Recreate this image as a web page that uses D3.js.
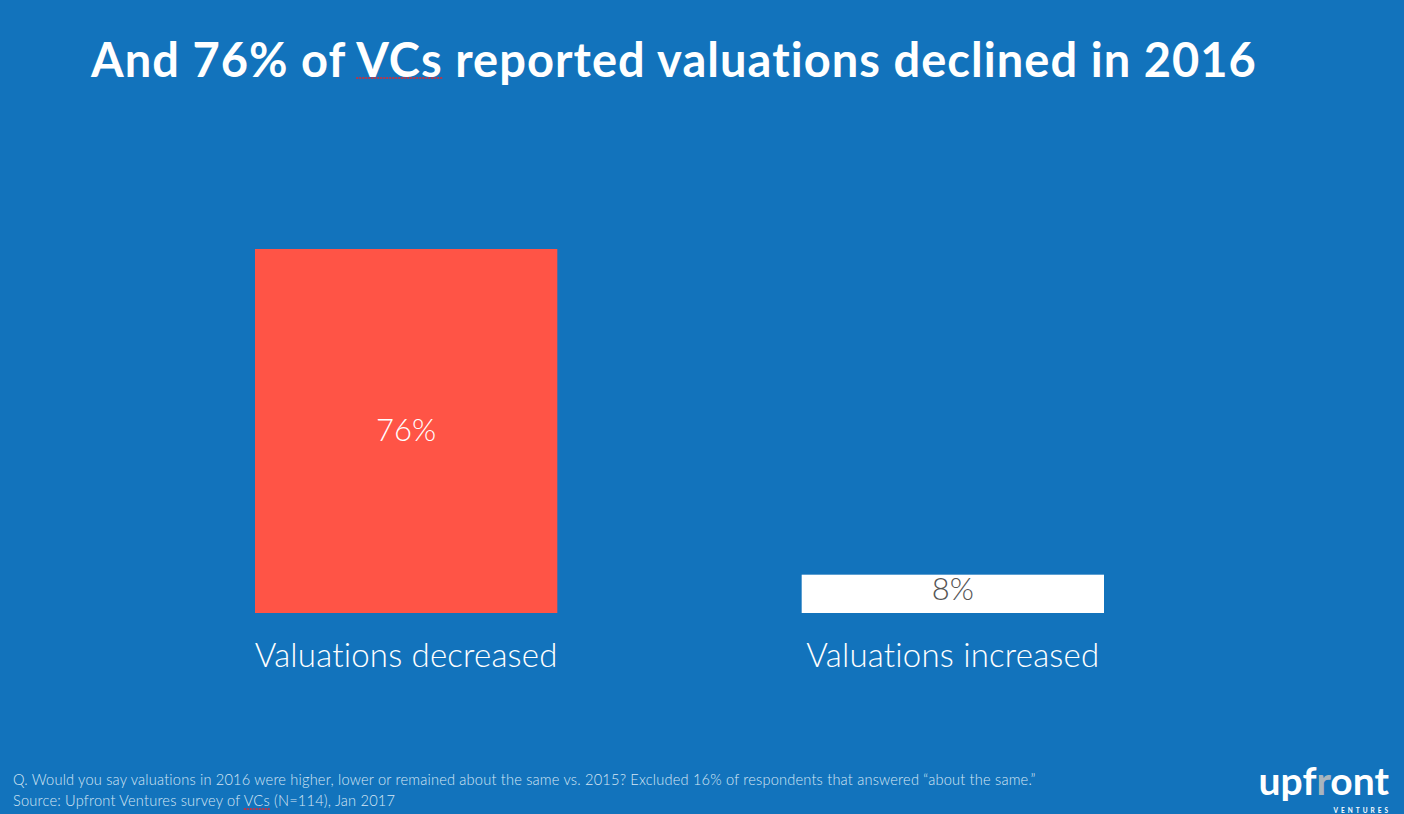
<!DOCTYPE html>
<meta charset="utf-8">
<script src="https://d3js.org/d3.v7.min.js"></script>
<style>
  body { margin: 0; background: #1273bc; }
  text { font-family: Lato, "Open Sans", sans-serif; }
</style>
<div id="chart"></div>
<script>
// Datos.
var categories = ["Valuations decreased", "Valuations increased"];
var values = [76, 8];
var valueLabels = ["76%", "8%"];
var titleText = "And 76% of VCs reported valuations declined in 2016";
var notes = [
  "Q. Would you say valuations in 2016 were higher, lower or remained about the same vs. 2015? Excluded 16% of respondents that answered \u201cabout the same.\u201d",
  "Source: Upfront Ventures survey of VCs (N=114), Jan 2017"
];

var W = 1404, H = 814;
var svg = d3.select("#chart").append("svg")
    .attr("width", W).attr("height", H);

svg.append("rect").attr("width", W).attr("height", H).attr("fill", "#1273bc");

// Escalas.
var x = d3.scaleBand().domain(categories).range([255, 1104])
    .paddingInner(0.447).paddingOuter(0);
var y = d3.scaleLinear().domain([0, 76]).range([613, 249]);

// Titulo.
var title = svg.append("text")
    .attr("x", 91).attr("y", 77)
    .attr("fill", "#fff")
    .attr("font-size", 47).attr("font-weight", 700)
    .attr("letter-spacing", 1.05)
    .text(titleText);

// Barras.
var colors = ["#ff5446", "#ffffff"];
svg.selectAll(".bar").data(values).enter().append("rect")
    .attr("x", function(d, i) { return x(categories[i]); })
    .attr("y", function(d) { return y(d); })
    .attr("width", x.bandwidth())
    .attr("height", function(d) { return y(0) - y(d); })
    .attr("fill", function(d, i) { return colors[i]; });

// Etiquetas de valor.
svg.selectAll(".val").data(values).enter().append("text")
    .attr("x", function(d, i) { return x(categories[i]) + x.bandwidth() / 2; })
    .attr("y", function(d, i) { return i == 0 ? 441 : y(d) + 25; })
    .attr("text-anchor", "middle")
    .attr("font-size", 31).attr("font-weight", 300)
    .attr("fill", function(d, i) { return i == 0 ? "#fff" : "#555"; })
    .text(function(d, i) { return valueLabels[i]; });

// Etiquetas de categoria.
svg.selectAll(".cat").data(categories).enter().append("text")
    .attr("x", function(d) { return x(d) + x.bandwidth() / 2; })
    .attr("y", 667)
    .attr("text-anchor", "middle")
    .attr("font-size", 33).attr("font-weight", 300)
    .attr("letter-spacing", 0.2)
    .attr("fill", "#fff")
    .text(function(d) { return d; });

// Notas al pie.
var noteText = svg.selectAll(".note").data(notes).enter().append("text")
    .attr("x", 13)
    .attr("y", function(d, i) { return 785 + i * 21; })
    .attr("font-size", 14.6).attr("font-weight", 300)
    .attr("letter-spacing", 0.2)
    .attr("fill", "#d6e6f4")
    .text(function(d) { return d; });

// Subrayado rojo de corrector bajo "VCs".
function squiggle(node, word, yy) {
  var s = node.textContent, i = s.indexOf(word);
  var x0 = node.getStartPositionOfChar(i).x;
  var x1 = node.getEndPositionOfChar(i + word.length - 1).x;
  svg.append("line").attr("x1", x0).attr("x2", x1).attr("y1", yy).attr("y2", yy)
     .attr("stroke", "#e8262a").attr("stroke-width", 1.5)
     .attr("stroke-dasharray", "2,1");
}
squiggle(title.node(), "VCs", 78);
squiggle(noteText.nodes()[1], "VCs", 809);

// Logo.
var logo = svg.append("text")
    .attr("x", 1389).attr("y", 795)
    .attr("text-anchor", "end")
    .attr("font-size", 39).attr("font-weight", 700)
    .attr("fill", "#fff");
logo.append("tspan").text("upf");
logo.append("tspan").attr("fill", "#a9b4bd").text("r");
logo.append("tspan").text("ont");
svg.append("text")
    .attr("x", 1391).attr("y", 812.5)
    .attr("text-anchor", "end")
    .attr("font-size", 6.5).attr("font-weight", 700)
    .attr("letter-spacing", 3)
    .attr("fill", "#fff")
    .text("VENTURES");
</script>
